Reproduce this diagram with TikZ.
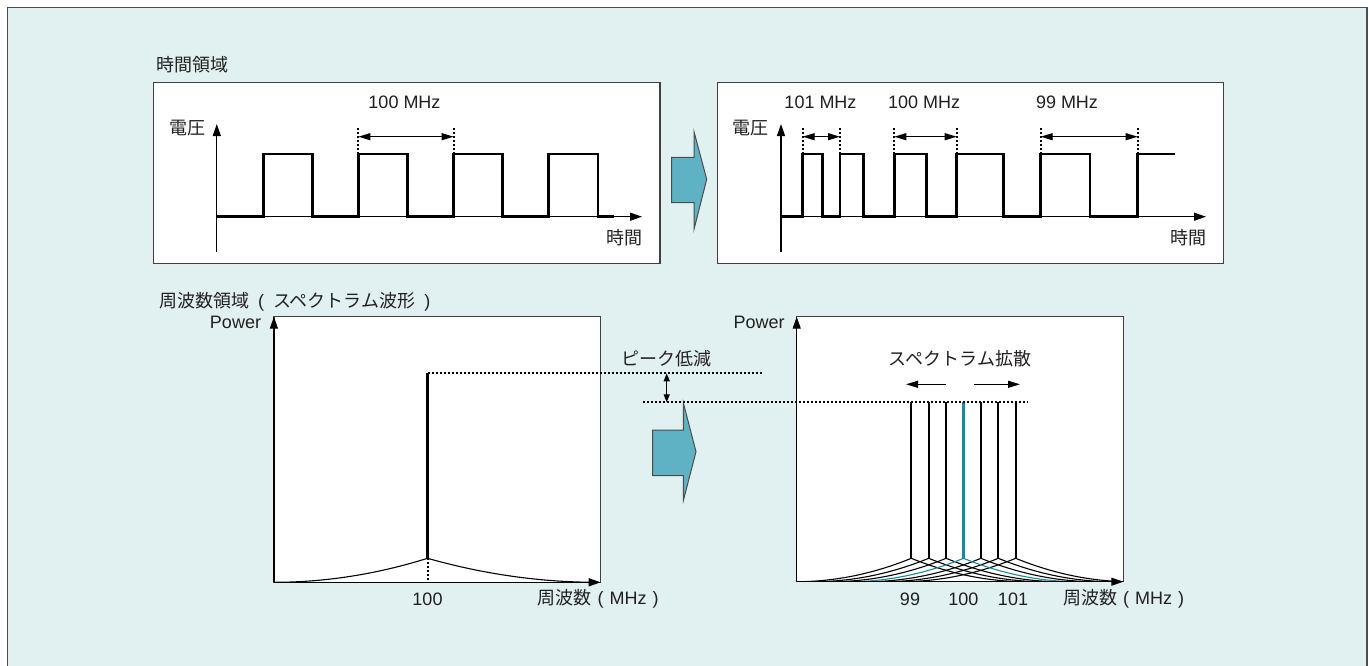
\documentclass[tikz,border=0pt]{standalone}
\usepackage{fontspec}
\setmainfont{Liberation Sans}
\newfontfamily\cjk{Noto Sans CJK JP}
\usetikzlibrary{arrows.meta}
\definecolor{bgc}{RGB}{225,241,242}
\definecolor{arrc}{RGB}{95,178,196}
\definecolor{tealline}{RGB}{20,140,155}
\definecolor{txt}{RGB}{35,31,32}
\begin{document}
\begin{tikzpicture}[x=1pt,y=-1pt,
  lbl/.style={inner sep=0pt, font=\fontsize{18}{20}\selectfont, text=txt},
  sig/.style={line width=2.7pt, line join=miter, draw=black},
  axisline/.style={line width=1.3pt, draw=black, -{Triangle[length=12pt,width=8pt]}},
  panel/.style={draw=black!75, line width=1.2pt, fill=white},
  dotline/.style={line width=2pt, dash pattern=on 2pt off 2pt, draw=black},
  dimarrow/.style={line width=1.2pt, {Triangle[length=12pt,width=7pt]}-{Triangle[length=12pt,width=7pt]}},
  bigarrow/.style={fill=arrc, draw=black!70, line width=1pt, line join=miter},
  tail/.style={line width=1.1pt}]
\useasboundingbox (0,0) rectangle (1369,665);
\fill[white] (0,0) rectangle (1369,665);
\draw[fill=bgc, draw=black!70, line width=1.5pt] (7.5,7.5) rectangle (1367,690);

% ---------- time domain ----------
\node[lbl, anchor=west] (t1) at (156,64.5) {\cjk 時間領域};

\draw[panel] (153.6,82.3) rectangle (660,263.3);
\draw[axisline] (216.8,251.7) -- (216.8,124);
\draw[axisline] (216.8,216.7) -- (642,216.7);
\draw[sig] (216.8,216.7) -- (263.2,216.7) -- (263.2,154) -- (312.3,154) -- (312.3,216.7)
  -- (358.4,216.7) -- (358.4,154) -- (407.5,154) -- (407.5,216.7)
  -- (453.6,216.7) -- (453.6,154) -- (502.7,154) -- (502.7,216.7)
  -- (548.8,216.7) -- (548.8,154) -- (597.9,154) -- (597.9,216.7) -- (614,216.7);
\coordinate (la) at (358.4,136.7);
\coordinate (lb) at (453.6,136.7);
\draw[dotline] (358.4,128) -- (358.4,154);
\draw[dotline] (453.6,128) -- (453.6,154);
\draw[dimarrow] (la) -- (lb);
\node[lbl] (l100) at (404.5,102.7) {100 MHz};
\node[lbl] (lv) at (187,128.3) {\cjk 電圧};
\node[lbl] (lt) at (624.2,237.3) {\cjk 時間};

\draw[bigarrow] (671.7,157.3) -- (694,157.3) -- (694,131.7) -- (706.7,179.3) -- (694,229.3) -- (694,202.7) -- (671.7,202.7) -- cycle;

\draw[panel] (717.3,82.3) rectangle (1223.5,263.3);
\draw[axisline] (781,251.7) -- (781,124);
\draw[axisline] (781,216.7) -- (1206,216.7);
\draw[sig] (781,216.7) -- (802.7,216.7) -- (802.7,154) -- (822.3,154) -- (822.3,216.7)
  -- (840,216.7) -- (840,154) -- (863.3,154) -- (863.3,216.7)
  -- (894.3,216.7) -- (894.3,154) -- (926.7,154) -- (926.7,216.7)
  -- (956.7,216.7) -- (956.7,154) -- (1003.3,154) -- (1003.3,216.7)
  -- (1040.7,216.7) -- (1040.7,154) -- (1090,154) -- (1090,216.7)
  -- (1137.7,216.7) -- (1137.7,154) -- (1175,154);
\foreach \xa/\xb/\nm in {802.7/840/a, 894.3/956.7/b, 1040.7/1137.7/c}{
  \coordinate (r\nm1) at (\xa,136.7);
  \coordinate (r\nm2) at (\xb,136.7);
  \draw[dotline] (\xa,128) -- (\xa,154);
  \draw[dotline] (\xb,128) -- (\xb,154);
  \draw[dimarrow] (r\nm1) -- (r\nm2);
}
\node[lbl] (r101) at (820.5,102.7) {101 MHz};
\node[lbl] (r100) at (924.2,102.7) {100 MHz};
\node[lbl] (r99) at (1067,102.7) {99 MHz};
\node[lbl] (rv) at (750,128.3) {\cjk 電圧};
\node[lbl] (rt) at (1188,237.3) {\cjk 時間};

% ---------- frequency domain ----------
\node[lbl, anchor=west] (t2) at (159,301.7) {{\cjk 周波数領域}\makebox[24pt]{(}{\cjk スペクトラム波形}\makebox[24pt]{)}};

\draw[panel] (273.9,316.7) rectangle (600.7,582.3);
\draw[axisline] (273.9,582.3) -- (273.9,316.7);
\draw[axisline] (273.9,582.3) -- (600.7,582.3);
\node[lbl] (p1) at (235.5,322.7) {Power};
\draw[tail] (273.9,582.3) .. controls (325.1,582.3) and (376.3,574.3) .. (427.5,558.3)
  .. controls (484.2,574.3) and (540.8,582.3) .. (597.5,582.3);
\draw[line width=2.7pt] (427.5,373.3) -- (427.5,558.3);
\draw[dotline] (427.5,558.3) -- (427.5,582.3);
\node[lbl] (f100) at (427.5,599) {100};
\node[lbl, anchor=west] (fx1) at (537.5,599) {{\cjk 周波数}\hspace{6pt}(\hspace{6pt}MHz\hspace{6pt})};

\node[lbl, anchor=west] (pk) at (621.7,358.3) {\cjk ピーク低減};
\draw[line width=1.2pt, {Triangle[length=8pt,width=6pt]}-{Triangle[length=8pt,width=6pt]}] (666.7,373.3) -- (666.7,402.3);

\draw[bigarrow] (652.7,430) -- (683.3,430) -- (683.3,402.7) -- (696,451.7) -- (683.3,500.7) -- (683.3,475.7) -- (652.7,475.7) -- cycle;

\draw[panel] (796.7,316.7) rectangle (1123.3,581.7);
\begin{scope}
  \clip (796.7,316.7) rectangle (1123.3,581.7);
  \foreach \i in {-3,-2,-1,1,2,3}{
    \pgfmathsetmacro\xx{963.5+17.4*\i}
    \draw[tail] (\xx-115,581.7) .. controls (\xx-76.7,581.7) and (\xx-38.3,573.9) .. (\xx,558.3)
      .. controls (\xx+38.3,573.9) and (\xx+76.7,581.7) .. (\xx+115,581.7);
  }
  \draw[tail, draw=tealline] (963.5-115,581.7) .. controls (963.5-76.7,581.7) and (963.5-38.3,573.9) .. (963.5,558.3)
      .. controls (963.5+38.3,573.9) and (963.5+76.7,581.7) .. (963.5+115,581.7);
\end{scope}
\foreach \i in {-3,-2,-1,1,2,3}{
  \pgfmathsetmacro\xx{963.5+17.4*\i}
  \draw[line width=2.2pt] (\xx,402.3) -- (\xx,558.3);
}
\draw[line width=2.2pt, draw=tealline] (963.5,402.3) -- (963.5,558.3);
\draw[axisline] (796.7,581.7) -- (796.7,316.7);
\draw[axisline] (796.7,581.7) -- (1123.3,581.7);

% peak reference lines (over the panels)
\draw[dotline] (427.5,373.3) -- (762.7,373.3);
\draw[dotline] (643,402.3) -- (1028,402.3);

\node[lbl] (p2) at (759.2,322.7) {Power};
\node[lbl] (ss) at (960,358.3) {\cjk スペクトラム拡散};
\coordinate (sl1) at (946,384.3);
\coordinate (sl2) at (906,384.3);
\coordinate (sr1) at (974,384.3);
\coordinate (sr2) at (1020,384.3);
\draw[line width=1.2pt, -{Triangle[length=12pt,width=7pt]}] (sl1) -- (sl2);
\draw[line width=1.2pt, -{Triangle[length=12pt,width=7pt]}] (sr1) -- (sr2);
\node[lbl] (f99) at (910,599) {99};
\node[lbl] (f100b) at (963.3,599) {100};
\node[lbl] (f101) at (1013,599) {101};
\node[lbl, anchor=west] (fx2) at (1063,599) {{\cjk 周波数}\hspace{6pt}(\hspace{6pt}MHz\hspace{6pt})};
\end{tikzpicture}
\end{document}
